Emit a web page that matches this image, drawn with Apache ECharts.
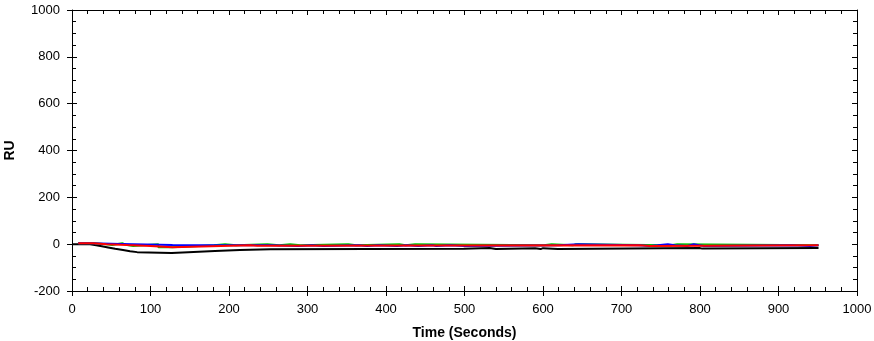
<!DOCTYPE html>
<html>
<head>
<meta charset="utf-8">
<script src="https://cdn.jsdelivr.net/npm/echarts@6/dist/echarts.min.js"></script>
<style>
  html, body { margin: 0; padding: 0; background: #fff; }
  #main { width: 874px; height: 341px; }
</style>
</head>
<body>
<div id="main"></div>
<script>
// sensorgram steps: each value holds from its time until the next time
var blackT = [0, 23, 29, 38, 46, 55, 65, 74, 83, 127, 148, 182, 214, 253, 499, 532, 540, 590, 597, 600, 619, 799, 803, 951];
var blackV = [0, -4, -9, -14, -20, -25, -30, -34, -38, -34, -29, -25, -22, -20, -16, -21, -17, -21, -17, -21, -16, -19, -16, -16];

var greenT = [8, 27, 44, 51, 64, 70, 78, 110, 128, 181, 195, 209, 249, 264, 278, 291, 352, 362, 417, 425, 437, 601, 611, 638, 642, 763, 771, 951];
var greenV = [4, 0, -4, 4, -4, -8, 0, -13, -5, 0, -5, 0, -5, 0, -5, 0, -5, 0, -5, 0, -5, 0, -5, 0, -5, 0, -5, -5];

var blueT = [8, 23, 77, 128, 253, 288, 306, 320, 365, 376, 390, 414, 426, 441, 459, 464, 482, 500, 620, 645, 722, 737, 746, 759, 768, 784, 792, 799, 805, 917, 940, 951];
var blueV = [4, 0, -4, -5, -8, -5, -8, -5, -8, -5, -8, -5, -8, -5, -8, -5, -8, -5, 0, -5, -8, -5, 0, -5, -8, 0, -5, -8, -5, -8, -5, -5];

var redT = [8, 27, 44, 70, 100, 128, 227, 236, 722, 737, 951];
var redV = [4, 0, -4, -8, -13, -5, -7, -5, -8, -5, -5];

var xTicks = [0, 100, 200, 300, 400, 500, 600, 700, 800, 900, 1000];
var yTicks = [-200, 0, 200, 400, 600, 800, 1000];

// turn the step lists into flat-then-jump points
function steps(t, v) {
  var out = [];
  for (var i = 0; i < t.length; i++) {
    out.push([t[i], v[i]]);
    if (i < t.length - 1) out.push([t[i + 1], v[i]]);
  }
  return out;
}

var font = 'Liberation Sans, Arial, sans-serif';
var lineStyle = { color: '#000', width: 1 };
var plain = function (v) { return String(v); };

var myChart = echarts.init(document.getElementById('main'), null, { renderer: 'canvas' });
var option = {
  animation: false,
  backgroundColor: '#fff',
  grid: { left: 72, right: 17, top: 10, bottom: 50, outerBoundsMode: 'none', containLabel: false },
  xAxis: [
    {
      type: 'value', position: 'bottom',
      min: xTicks[0], max: xTicks[xTicks.length - 1], interval: 100,
      name: 'Time (Seconds)', nameLocation: 'middle', nameGap: 35,
      nameTextStyle: { fontFamily: font, fontSize: 14, fontWeight: 'bold', color: '#000' },
      axisLine: { show: true, onZero: false, lineStyle: lineStyle },
      axisTick: { show: true, inside: false, length: 5, lineStyle: lineStyle },
      axisLabel: { fontFamily: font, fontSize: 13, color: '#000', margin: 12, formatter: plain },
      splitLine: { show: false }
    },
    {
      type: 'value', position: 'bottom', gridIndex: 0,
      min: 0, max: 1000, interval: 100,
      axisLine: { show: false, onZero: false },
      axisTick: { show: true, inside: true, length: 5, lineStyle: lineStyle },
      minorTick: { show: true, splitNumber: 5, length: 4, lineStyle: lineStyle },
      axisLabel: { show: false },
      splitLine: { show: false }
    },
    {
      type: 'value', position: 'top', gridIndex: 0,
      min: 0, max: 1000, interval: 100,
      axisLine: { show: true, onZero: false, lineStyle: lineStyle },
      axisTick: { show: true, inside: true, length: 5, lineStyle: lineStyle },
      minorTick: { show: true, splitNumber: 5, length: 4, lineStyle: lineStyle },
      axisLabel: { show: false },
      splitLine: { show: false }
    }
  ],
  yAxis: [
    {
      type: 'value', position: 'left',
      min: yTicks[0], max: yTicks[yTicks.length - 1], interval: 200,
      name: 'RU', nameLocation: 'middle', nameGap: 55,
      nameTextStyle: { fontFamily: font, fontSize: 14, fontWeight: 'bold', color: '#000' },
      axisLine: { show: true, onZero: false, lineStyle: lineStyle },
      axisTick: { show: true, inside: false, length: 5, lineStyle: lineStyle },
      axisLabel: { fontFamily: font, fontSize: 13, color: '#000', margin: 12, formatter: plain },
      splitLine: { show: false }
    },
    {
      type: 'value', position: 'left', gridIndex: 0,
      min: -200, max: 1000, interval: 200,
      axisLine: { show: false, onZero: false },
      axisTick: { show: true, inside: true, length: 5, lineStyle: lineStyle },
      minorTick: { show: true, splitNumber: 4, length: 4, lineStyle: lineStyle },
      axisLabel: { show: false },
      splitLine: { show: false }
    },
    {
      type: 'value', position: 'right', gridIndex: 0,
      min: -200, max: 1000, interval: 200,
      axisLine: { show: true, onZero: false, lineStyle: lineStyle },
      axisTick: { show: true, inside: true, length: 5, lineStyle: lineStyle },
      minorTick: { show: true, splitNumber: 4, length: 4, lineStyle: lineStyle },
      axisLabel: { show: false },
      splitLine: { show: false }
    }
  ],
  series: [
    { name: 'black', type: 'line', showSymbol: false, data: steps(blackT, blackV),
      lineStyle: { color: '#000000', width: 2 } },
    { name: 'green', type: 'line', showSymbol: false, data: steps(greenT, greenV),
      lineStyle: { color: '#00c800', width: 2 } },
    { name: 'blue', type: 'line', showSymbol: false, data: steps(blueT, blueV),
      lineStyle: { color: '#0000ff', width: 2 } },
    { name: 'red', type: 'line', showSymbol: false, data: steps(redT, redV),
      lineStyle: { color: '#ff0000', width: 2 } }
  ]
};
myChart.setOption(option);
</script>
</body>
</html>
